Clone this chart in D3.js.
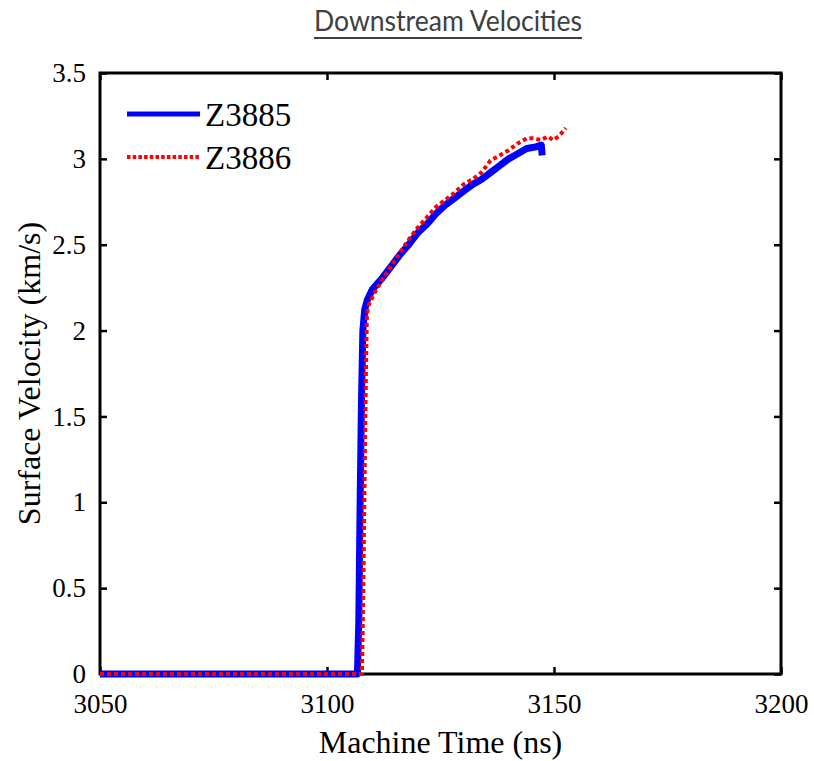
<!DOCTYPE html>
<html>
<head>
<meta charset="utf-8">
<script src="https://cdn.jsdelivr.net/npm/d3@7"></script>
<style>
  body { margin: 0; background: #fff; }
  svg { display: block; font-family: "Liberation Serif", "Times New Roman", serif; }
  svg text.serif { font-family: "Liberation Serif", "DejaVu Serif", serif !important; }
</style>
</head>
<body>
<svg id="chart" width="814" height="761"></svg>
<script>
// shot Z3885 (blue) - time in ns, velocity in km/s
var timeZ3885 = [3050, 3106.7, 3107.0, 3107.3, 3107.6, 3107.9, 3108.3, 3108.9, 3110, 3112, 3114, 3116, 3118,
  3120, 3122, 3124, 3126, 3128, 3130, 3132, 3134, 3136, 3138, 3140, 3142, 3144, 3146, 3147.2, 3147.4];
var velZ3885 = [0, 0, 0.3, 1.0, 1.6, 2.0, 2.12, 2.18, 2.24, 2.30, 2.37, 2.44, 2.50,
  2.57, 2.62, 2.68, 2.73, 2.77, 2.81, 2.85, 2.88, 2.92, 2.96, 3.00, 3.03, 3.06, 3.07, 3.08, 3.02];

// shot Z3886 (red dotted)
var timeZ3886 = [3050, 3107.7, 3108.0, 3108.3, 3108.6, 3108.8, 3109.2, 3110.5, 3112, 3114, 3116, 3118,
  3120, 3122, 3124, 3126, 3128, 3130, 3132, 3134, 3136, 3138, 3140, 3142, 3144, 3145.5, 3147, 3148.7,
  3149.8, 3151, 3152, 3152.6];
var velZ3886 = [0, 0, 0.5, 1.2, 1.8, 2.1, 2.15, 2.22, 2.29, 2.37, 2.45, 2.53,
  2.60, 2.66, 2.72, 2.76, 2.80, 2.85, 2.88, 2.92, 2.99, 3.02, 3.05, 3.09, 3.12, 3.12, 3.11, 3.13,
  3.11, 3.13, 3.16, 3.18];

var xTicks = [3050, 3100, 3150, 3200];
var yTicks = [0, 0.5, 1, 1.5, 2, 2.5, 3, 3.5];
var seriesNames = ["Z3885", "Z3886"];

var margin = {top: 73, right: 33, bottom: 87, left: 100},
  width = 814 - margin.left - margin.right,
  height = 761 - margin.top - margin.bottom;

var svg = d3.select("#chart");

// title
svg.append("text")
  .attr("x", 448)
  .attr("y", 31)
  .attr("text-anchor", "middle")
  .style("font-family", "Lato, 'Noto Sans', sans-serif")
  .style("font-size", "28px")
  .style("fill", "#404040")
  .attr("textLength", 268)
  .attr("lengthAdjust", "spacingAndGlyphs")
  .text("Downstream Velocities");
svg.append("line")
  .attr("x1", 314).attr("x2", 582)
  .attr("y1", 38).attr("y2", 38)
  .attr("stroke", "#404040").attr("stroke-width", 2);

var g = svg.append("g")
  .attr("transform", "translate(" + margin.left + "," + margin.top + ")");

var x = d3.scaleLinear().domain([3050, 3200]).range([0, width]);
var y = d3.scaleLinear().domain([0, 3.5]).range([height, 0]);

// tick marks drawn inward (matlab style) on all four sides
function styleAxis(sel) {
  sel.attr("font-family", null).attr("font-size", null);
  sel.select(".domain").remove();
  sel.selectAll(".tick line").attr("stroke", "#000").attr("stroke-width", 2.5);
  sel.selectAll(".tick text")
    .attr("class", "serif")
    .style("font-size", "27px")
    .attr("fill", "#000");
}

g.append("g")
  .attr("transform", "translate(0," + height + ")")
  .call(d3.axisBottom(x).tickValues(xTicks).tickSize(-7).tickPadding(20).tickFormat(d3.format("d")))
  .call(styleAxis);
g.append("g")
  .call(d3.axisTop(x).tickValues(xTicks).tickSize(-7).tickFormat(""))
  .call(styleAxis);
g.append("g")
  .call(d3.axisLeft(y).tickValues(yTicks).tickSize(-7).tickPadding(14).tickFormat(function(d) { return d; }))
  .call(styleAxis);
g.append("g")
  .attr("transform", "translate(" + width + ",0)")
  .call(d3.axisRight(y).tickValues(yTicks).tickSize(-7).tickFormat(""))
  .call(styleAxis);

// box
g.append("rect")
  .attr("width", width).attr("height", height)
  .attr("fill", "none").attr("stroke", "#000").attr("stroke-width", 3);

var line = d3.line()
  .x(function(d) { return x(d[0]); })
  .y(function(d) { return y(d[1]); });

var blueData = timeZ3885.map(function(t, i) { return [t, velZ3885[i]]; });
var redData = timeZ3886.map(function(t, i) { return [t, velZ3886[i]]; });

g.append("path")
  .datum(blueData)
  .attr("d", line)
  .attr("fill", "none")
  .attr("stroke", "#0000ff")
  .attr("stroke-width", 7)
  .attr("stroke-linejoin", "round");

g.append("path")
  .datum(redData)
  .attr("d", line)
  .attr("fill", "none")
  .attr("stroke", "#ff0000")
  .attr("stroke-width", 4)
  .attr("stroke-dasharray", "4,3");

// legend
var legend = svg.append("g");
var legendColors = ["#0000ff", "#ff0000"];
seriesNames.forEach(function(name, i) {
  var ly = 114 + i * 43;
  legend.append("line")
    .attr("x1", 127).attr("x2", 200)
    .attr("y1", ly).attr("y2", ly)
    .attr("stroke", legendColors[i])
    .attr("stroke-width", i == 0 ? 5 : 4)
    .attr("stroke-dasharray", i == 0 ? null : "3.5,2.2");
  legend.append("text")
    .attr("class", "serif")
    .attr("x", 205).attr("y", ly + 12)
    .style("font-size", "33px")
    .text(name);
});

// axis labels
svg.append("text")
  .attr("class", "serif")
  .attr("x", margin.left + width / 2)
  .attr("y", 753)
  .attr("text-anchor", "middle")
  .style("font-size", "32px")
  .text("Machine Time (ns)");

svg.append("text")
  .attr("class", "serif")
  .attr("transform", "translate(40," + (margin.top + height / 2) + ") rotate(-90)")
  .attr("text-anchor", "middle")
  .style("font-size", "32px")
  .text("Surface Velocity (km/s)");
</script>
</body>
</html>
